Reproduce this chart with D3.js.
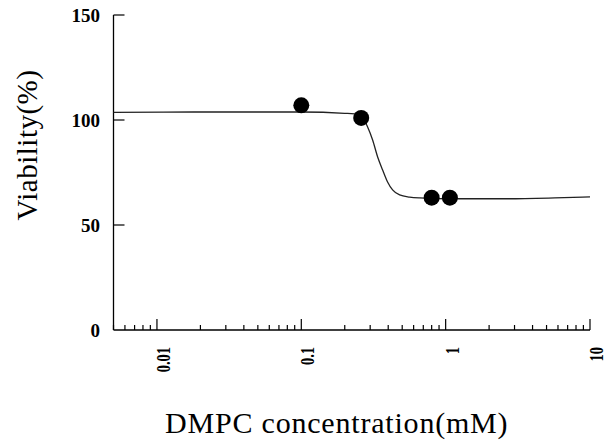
<!DOCTYPE html>
<html><head><meta charset="utf-8">
<script src="https://cdn.jsdelivr.net/npm/d3@7"></script>
<style>body{margin:0;background:#fff}svg{display:block}</style>
</head><body>
<script>
// measured points
const pointConc = [0.1, 0.26, 0.8, 1.07];
const pointViab = [107, 101, 63, 63];
// fitted curve
const curveConc = [0.005, 0.018, 0.1, 0.2, 0.254, 0.288, 0.312, 0.338, 0.366, 0.396, 0.429, 0.48, 0.563, 0.661, 1.08, 2.7, 5.7, 10];
const curveViab = [103.6, 103.8, 103.8, 103.2, 102.6, 96.7, 90.5, 82.4, 76.2, 70.5, 66.7, 64.3, 63.3, 62.9, 62.5, 62.5, 62.9, 63.4];
const yTicks = [0, 50, 100, 150];
const xTickLabels = ["0.01", "0.1", "1", "10"];
const xMajor = [0.01, 0.1, 1, 10];

const W = 609, H = 447;
const svg = d3.select("body").append("svg").attr("width", W).attr("height", H);
const x = d3.scaleLog().domain([0.005, 10]).range([113.5, 590]);
const y = d3.scaleLinear().domain([0, 150]).range([330, 15]);
const serif = "'Liberation Serif','Times New Roman',serif";

// minor ticks
const minor = [];
[0.001, 0.01, 0.1, 1].forEach(d => { for (let k = 2; k <= 9; k++) { const v = d * k; if (v >= 0.005 && v <= 10) minor.push(v); } });

const g = svg.append("g");
g.selectAll(".mn").data(minor).enter().append("line")
  .attr("x1", d => x(d)).attr("x2", d => x(d)).attr("y1", y(0)).attr("y2", y(0) - 5)
  .attr("stroke", "#000").attr("stroke-width", 1.2);
g.selectAll(".mj").data(xMajor).enter().append("line")
  .attr("x1", d => x(d)).attr("x2", d => x(d)).attr("y1", y(0)).attr("y2", y(0) - 11)
  .attr("stroke", "#000").attr("stroke-width", 1.2);
g.selectAll(".yt").data(yTicks.filter(d => d > 0)).enter().append("line")
  .attr("x1", x(0.005)).attr("x2", x(0.005) + 11).attr("y1", d => y(d)).attr("y2", d => y(d))
  .attr("stroke", "#000").attr("stroke-width", 1.2);
// axis lines
g.append("line").attr("x1", x(0.005)).attr("x2", x(0.005)).attr("y1", y(150)).attr("y2", y(0)).attr("stroke", "#000").attr("stroke-width", 1.3);
g.append("line").attr("x1", x(0.005)).attr("x2", x(10)).attr("y1", y(0)).attr("y2", y(0)).attr("stroke", "#000").attr("stroke-width", 1.3);

// y tick labels
g.selectAll(".yl").data(yTicks).enter().append("text")
  .attr("x", 100).attr("y", d => y(d)).attr("dy", "0.35em")
  .attr("text-anchor", "end").attr("font-family", serif).attr("font-weight", "bold").attr("font-size", 19)
  .text(d => d);
// x tick labels rotated (condensed digits)
g.selectAll(".xl").data(xMajor).enter().append("text")
  .attr("transform", d => `translate(${x(d) + 13},347) rotate(-90) scale(0.8,1)`)
  .attr("text-anchor", "end").attr("font-family", serif).attr("font-weight", "bold").attr("font-size", 18)
  .text((d, i) => xTickLabels[i]);

// curve
const curve = curveConc.map((c, i) => [c, curveViab[i]]);
g.append("path").datum(curve)
  .attr("d", d3.line().x(d => x(d[0])).y(d => y(d[1])).curve(d3.curveMonotoneX))
  .attr("fill", "none").attr("stroke", "#222").attr("stroke-width", 1.3);

// points
g.selectAll(".pt").data(pointConc).enter().append("circle")
  .attr("cx", d => x(d)).attr("cy", (d, i) => y(pointViab[i])).attr("r", 8).attr("fill", "#000");

// axis titles
svg.append("text").attr("x", 165).attr("y", 433).attr("text-anchor", "start")
  .attr("font-family", serif).attr("font-size", 30).attr("letter-spacing", 0.8)
  .text("DMPC concentration(mM)");
svg.append("text").attr("transform", "translate(37,145) rotate(-90)").attr("text-anchor", "middle")
  .attr("font-family", serif).attr("font-size", 29).attr("letter-spacing", 0.5)
  .text("Viability(%)");
</script>
</body></html>
